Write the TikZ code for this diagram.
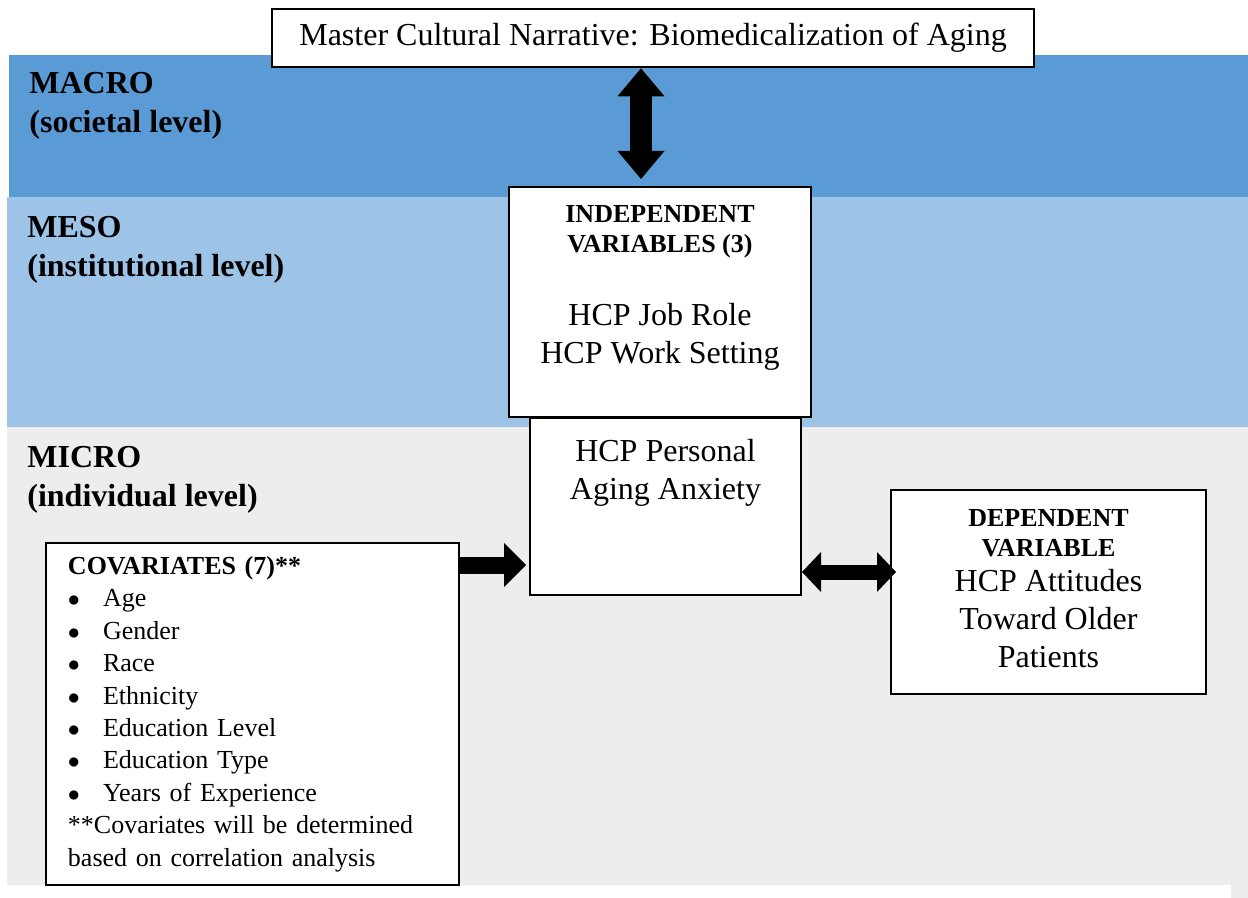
\documentclass[tikz,border=0pt]{standalone}
\usepackage{fontspec}
\setmainfont{Liberation Serif}
\usetikzlibrary{arrows.meta}
\definecolor{macroblue}{HTML}{5B9BD5}
\definecolor{mesoblue}{HTML}{9DC3E6}
\definecolor{microgray}{HTML}{EDEDED}
\newcommand{\covitem}{\makebox[17.5pt][l]{$\bullet$}}

\begin{document}
\begin{tikzpicture}[x=0.5pt,y=-0.5pt,
  box/.style={draw=black,line width=1pt,fill=white,inner sep=0pt},
  lvl/.style={anchor=north west,align=left,inner sep=0pt,font=\fontsize{16}{19.5}\selectfont\bfseries},
  head/.style={anchor=north,align=center,inner sep=0pt,font=\fontsize{13}{15}\selectfont\bfseries},
  body/.style={anchor=north,align=center,inner sep=0pt,font=\fontsize{16}{19}\selectfont},
  fatarrow/.style={line width=8.5pt,-{Triangle[width=22pt,length=11pt,line width=0pt]}},
  fatboth/.style={line width=7.5pt,{Triangle[width=20pt,length=9.5pt,line width=0pt]}-{Triangle[width=20pt,length=9.5pt,line width=0pt]}},
  fatvert/.style={line width=11pt,{Triangle[width=23.5pt,length=14pt,line width=0pt]}-{Triangle[width=23.5pt,length=14pt,line width=0pt]}}]
  \useasboundingbox (0,0) rectangle (1248,898);
  % ---------------- level bands
  \fill[macroblue] (9,55) rectangle (1248,197);
  \fill[mesoblue] (7,197) rectangle (1248,427);
  \fill[microgray] (7,427) rectangle (1248,885);
  \fill[microgray] (1231,885) rectangle (1248,898);
  \node[lvl] (macro) at (29,72) {MACRO\\(societal level)};
  \node[lvl] (meso) at (27,216) {MESO\\(institutional level)};
  \node[lvl] (micro) at (27,446) {MICRO\\(individual level)};
  % ---------------- boxes
  \node[box,line width=1.3pt,minimum width=381pt,minimum height=29pt,
        font=\fontsize{16}{19}\selectfont] (master) at (653,38)
     {Master Cultural Narrative: Biomedicalization of Aging};
  \node[box,minimum width=151pt,minimum height=115pt] (indep) at (660,302) {};
  \node[head] (indephead) at ([yshift=-9.5pt]indep.north) {INDEPENDENT\\VARIABLES (3)};
  \node[body] (indepbody) at ([yshift=-58.5pt]indep.north) {HCP Job Role\\HCP Work Setting};
  \node[box,minimum width=135.5pt,minimum height=88.5pt] (anx) at (665.5,506.5) {};
  \node[body] (anxtext) at ([yshift=-11pt]anx.north) {HCP Personal\\Aging Anxiety};
  \node[box,minimum width=157.5pt,minimum height=102pt] (dep) at (1048.5,592) {};
  \node[head] (dephead) at ([yshift=-10pt]dep.north) {DEPENDENT\\VARIABLE};
  \node[body] (depbody) at ([yshift=-40pt]dep.north) {HCP Attitudes\\Toward Older\\Patients};
  \node[box,minimum width=206.5pt,minimum height=171pt,text width=184.5pt,
        inner xsep=11pt,align=left,font=\fontsize{13}{16.2}\selectfont] (cov) at (252.5,714)
     {\textbf{COVARIATES (7)**}\\
      \covitem Age\\
      \covitem Gender\\
      \covitem Race\\
      \covitem Ethnicity\\
      \covitem Education Level\\
      \covitem Education Type\\
      \covitem Years of Experience\\
      {}**Covariates will be determined\\
      based on correlation analysis};
  % ---------------- block arrows
  \coordinate (vx) at (641,0);
  \coordinate (hy) at (0,565);
  \coordinate (dy) at (0,572);
  \draw[fatvert,shorten >=3.5pt] (master.south -| vx) -- (indep.north -| vx);
  \draw[fatarrow,shorten >=1.5pt] (cov.east |- hy) -- (anx.west |- hy);
  \draw[fatboth,shorten >=-3pt] (anx.east |- dy) -- (dep.west |- dy);
\end{tikzpicture}
\end{document}
